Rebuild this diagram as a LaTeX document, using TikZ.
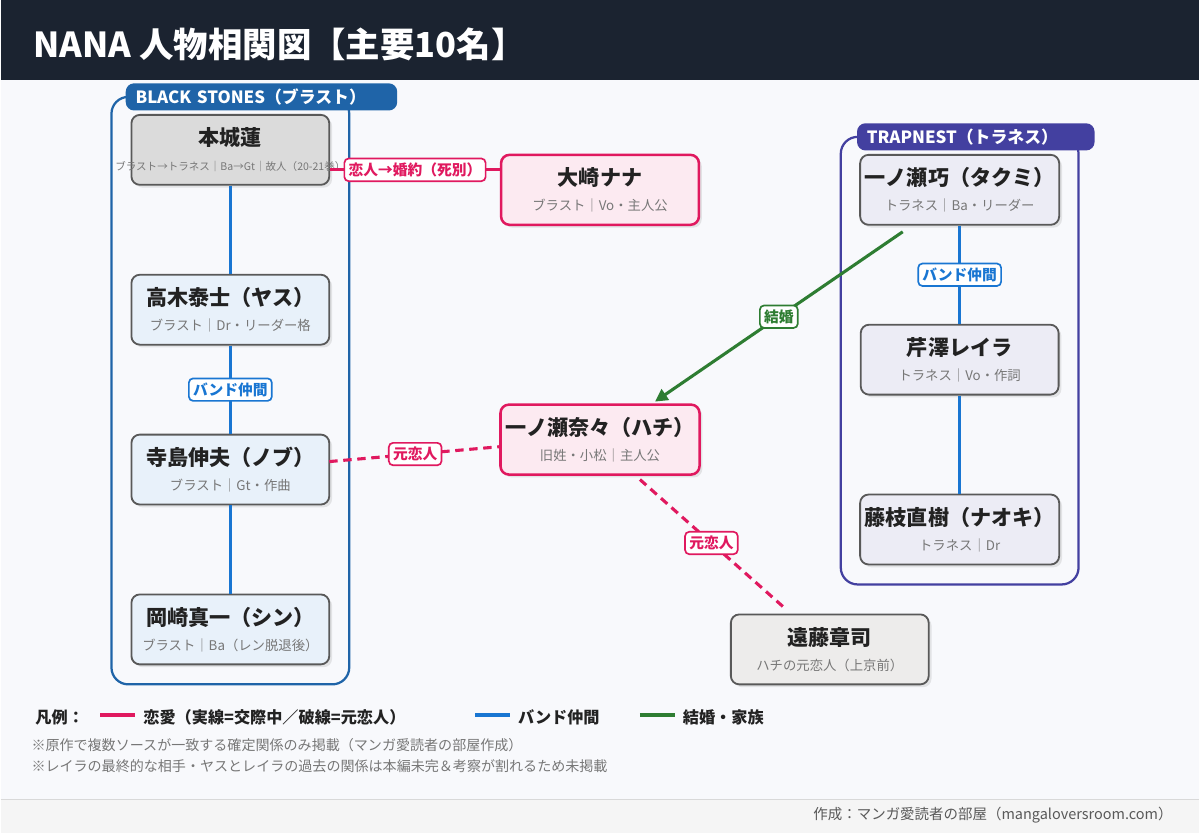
\documentclass[tikz,border=0pt]{standalone}
\usepackage{fontspec}
\setmainfont{Noto Sans CJK JP}
\usetikzlibrary{shadows,arrows.meta}

\definecolor{headbg}{HTML}{1B2330}
\definecolor{pagebg}{HTML}{F8F9FC}
\definecolor{bandblue}{HTML}{1976D2}
\definecolor{bsblue}{HTML}{1F64A8}
\definecolor{tpind}{HTML}{4340A0}
\definecolor{lovepink}{HTML}{E0195F}
\definecolor{wedgreen}{HTML}{2E7D32}
\definecolor{txtdark}{HTML}{222222}
\definecolor{txtgray}{HTML}{777777}

\tikzset{
  person/.style={rounded corners=6pt, draw=black!65, line width=1.3pt,
    minimum width=4.95cm, minimum height=1.75cm, align=center,
    text=txtdark, drop shadow={opacity=0.18, shadow xshift=2pt, shadow yshift=-2pt}},
  lead/.style={person, draw=lovepink, fill=lovepink!9, line width=1.8pt},
  band/.style={draw=bandblue, line width=2.2pt},
  love/.style={draw=lovepink, line width=2.2pt},
  exlove/.style={love, dash pattern=on 6pt off 4pt},
  tag/.style={fill=white, solid, rounded corners=3pt, line width=1.2pt, font=\bfseries\fontsize{10.5}{12}\selectfont,
    inner sep=3pt},
}

\newcommand{\pname}[1]{{\bfseries\fontsize{15}{17}\selectfont #1}}
\newcommand{\prole}[1]{{\color{txtgray}\fontsize{9.5}{11}\selectfont #1}}

\begin{document}
\begin{tikzpicture}[x=0.025cm, y=-0.025cm]
  \fill[pagebg] (0,0) rectangle (1200,834);
  \fill[headbg] (0,0) rectangle (1200,80);
  \node[anchor=west, text=white, font=\bfseries\fontsize{24.5}{28}\selectfont] (title) at (28,44) {NANA 人物相関図【主要10名】};

  % groups
  \draw[bsblue, line width=1.6pt, rounded corners=12pt] (111,97) rectangle (349,685);
  \node[fill=bsblue, rounded corners=6pt, text=white, anchor=west, minimum width=6.75cm, minimum height=0.68cm,
        font=\bfseries\fontsize{12}{13}\selectfont, inner xsep=7pt, align=left, text width=6.3cm] (bs) at (125,97) {BLACK STONES（ブラスト）};
  \draw[tpind, line width=1.6pt, rounded corners=12pt] (841,137) rectangle (1079,585);
  \node[fill=tpind, rounded corners=6pt, text=white, anchor=west, minimum width=5.9cm, minimum height=0.68cm,
        font=\bfseries\fontsize{12}{13}\selectfont, inner xsep=7pt, align=left, text width=5.45cm] (tp) at (857,137) {TRAPNEST（トラネス）};

  % people
  \node[person, fill=black!14] (ren) at (230,150) {\pname{本城蓮}\\[6pt]\makebox[0pt]{\color{txtgray}\fontsize{7.5}{9}\selectfont ブラスト→トラネス｜Ba→Gt｜故人（20-21巻）}};
  \node[person, fill=bandblue!10] (yasu) at (230,310) {\pname{高木泰士（ヤス）}\\[6pt]\prole{ブラスト｜Dr・リーダー格}};
  \node[person, fill=bandblue!10] (nobu) at (230,470) {\pname{寺島伸夫（ノブ）}\\[6pt]\prole{ブラスト｜Gt・作曲}};
  \node[person, fill=bandblue!10] (shin) at (230,630) {\pname{岡崎真一（シン）}\\[6pt]\prole{ブラスト｜Ba（レン脱退後）}};
  \node[lead] (nana) at (600,190) {\pname{大崎ナナ}\\[6pt]\prole{ブラスト｜Vo・主人公}};
  \node[lead] (hachi) at (600,440) {\pname{一ノ瀬奈々（ハチ）}\\[6pt]\prole{旧姓・小松｜主人公}};
  \node[person, fill=orange!10!black!8] (endo) at (830,650) {\pname{遠藤章司}\\[6pt]\prole{ハチの元恋人（上京前）}};
  \node[person, fill=tpind!10] (takumi) at (960,190) {\pname{一ノ瀬巧（タクミ）}\\[6pt]\prole{トラネス｜Ba・リーダー}};
  \node[person, fill=tpind!10] (reira) at (960,360) {\pname{芹澤レイラ}\\[6pt]\prole{トラネス｜Vo・作詞}};
  \node[person, fill=tpind!10] (naoki) at (960,530) {\pname{藤枝直樹（ナオキ）}\\[6pt]\prole{トラネス｜Dr}};

  % band lines
  \draw[band] (ren) -- (yasu);
  \draw[band] (yasu) -- node[tag, draw=bandblue, text=bandblue] (bl1) {バンド仲間} (nobu);
  \draw[band] (nobu) -- (shin);
  \draw[band] (takumi) -- node[tag, draw=bandblue, text=bandblue] (bl2) {バンド仲間} (reira);
  \draw[band] (reira) -- (naoki);

  % love lines
  \draw[love] (ren.east |- 0,170) -- node[tag, draw=lovepink, text=lovepink] (ll1) {恋人→婚約（死別）} (nana.west |- 0,170);
  \coordinate (nobuR) at (329,462);
  \coordinate (hachiL) at (501,447);
  \draw[exlove] (nobuR) -- node[tag, draw=lovepink, text=lovepink] (ll2) {元恋人} (hachiL);
  \coordinate (hachiB) at (640,480);
  \coordinate (endoT) at (783,607);
  \draw[exlove] (hachiB) -- node[tag, draw=lovepink, text=lovepink] (ll3) {元恋人} (endoT);

  % marriage
  \coordinate (takumiB) at (903,232);
  \coordinate (hachiT) at (655,402);
  \draw[wedgreen, line width=2.2pt, -{Triangle[length=9pt, width=9pt]}] (takumiB) -- node[tag, draw=wedgreen, text=wedgreen] (wl) {結婚} (hachiT);

  % legend
  \node[anchor=west, font=\bfseries\fontsize{11.5}{13}\selectfont, text=txtdark] (lg) at (30,718) {凡例：};
  \draw[lovepink, line width=3pt] (100,716) -- (135,716);
  \node[anchor=west, font=\bfseries\fontsize{11.5}{13}\selectfont, text=txtdark] (lg1) at (138,718) {恋愛（実線=交際中／破線=元恋人）};
  \draw[bandblue, line width=3pt] (475,716) -- (510,716);
  \node[anchor=west, font=\bfseries\fontsize{11.5}{13}\selectfont, text=txtdark] (lg2) at (513,718) {バンド仲間};
  \draw[wedgreen, line width=3pt] (640,716) -- (675,716);
  \node[anchor=west, font=\bfseries\fontsize{11.5}{13}\selectfont, text=txtdark] (lg3) at (678,718) {結婚・家族};
  \node[anchor=west, text=txtgray, font=\fontsize{10}{12}\selectfont] (n1) at (26,746) {※原作で複数ソースが一致する確定関係のみ掲載（マンガ愛読者の部屋作成）};
  \node[anchor=west, text=txtgray, font=\fontsize{10}{12}\selectfont] (n2) at (26,767) {※レイラの最終的な相手・ヤスとレイラの過去の関係は本編未完＆考察が割れるため未掲載};

  % footer
  \fill[black!4] (0,800) rectangle (1200,834);
  \draw[black!15, line width=0.8pt] (0,800) -- (1200,800);
  \node[anchor=east, text=black!65, font=\fontsize{10.3}{12}\selectfont] (ft) at (1178,816) {作成：マンガ愛読者の部屋（mangaloversroom.com）};
\end{tikzpicture}
\end{document}
